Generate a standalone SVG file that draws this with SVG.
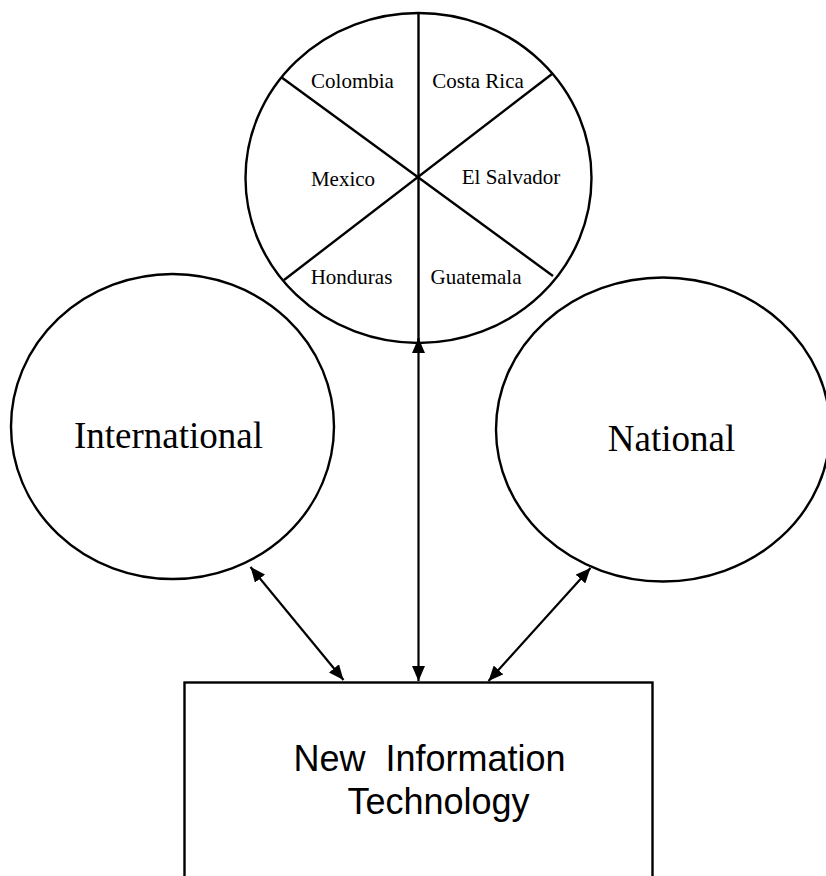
<svg xmlns="http://www.w3.org/2000/svg" width="826" height="876" viewBox="0 0 826 876">
<style>
.shape{fill:none;stroke:#000;stroke-width:2.4}
.conn{stroke:#000;stroke-width:2.2;fill:none;marker-start:url(#ah);marker-end:url(#ah)}
.country{font-family:"Liberation Serif","Times New Roman",serif;font-size:21px;fill:#000;text-anchor:middle}
.big{font-family:"Liberation Serif","Times New Roman",serif;font-size:37px;fill:#000;text-anchor:middle}
.sans{font-family:"Liberation Sans",Arial,sans-serif;font-size:36px;fill:#000;text-anchor:middle}
</style>
<defs>
<marker id="ah" viewBox="0 0 15 13" refX="15" refY="6.5" markerWidth="15" markerHeight="13" markerUnits="userSpaceOnUse" orient="auto-start-reverse">
<path d="M0,0 L15,6.5 L0,13 Z" fill="#000"/>
</marker>
</defs>
<rect width="826" height="876" fill="#fff"/>
<g id="countries">
<ellipse class="shape" cx="418.5" cy="178" rx="173" ry="165"/>
<line class="shape" x1="418.5" y1="13" x2="418.5" y2="343"/>
<line class="shape" x1="281" y1="77" x2="553" y2="276"/>
<line class="shape" x1="552" y1="74" x2="284" y2="280"/>
<text class="country" x="352.5" y="88">Colombia</text>
<text class="country" x="478" y="88">Costa Rica</text>
<text class="country" x="343" y="186">Mexico</text>
<text class="country" x="511" y="184">El Salvador</text>
<text class="country" x="351.5" y="284">Honduras</text>
<text class="country" x="476" y="284">Guatemala</text>
</g>
<g id="international">
<ellipse class="shape" cx="172.5" cy="426.5" rx="161.5" ry="152.5"/>
<text class="big" x="168.5" y="448">International</text>
</g>
<g id="national">
<ellipse class="shape" cx="663" cy="429.5" rx="167" ry="152"/>
<text class="big" x="671.5" y="450.5">National</text>
</g>
<g id="nit">
<rect class="shape" x="184.5" y="682.5" width="468" height="210"/>
<text class="sans" x="429.5" y="770.5" xml:space="preserve">New  Information</text>
<text class="sans" x="438.5" y="814">Technology</text>
</g>
<g id="connectors">
<line class="conn" x1="250.5" y1="567" x2="343.5" y2="680"/>
<line class="conn" x1="418.5" y1="338" x2="418.5" y2="681"/>
<line class="conn" x1="590.5" y1="568" x2="488.5" y2="681"/>
</g>
</svg>
